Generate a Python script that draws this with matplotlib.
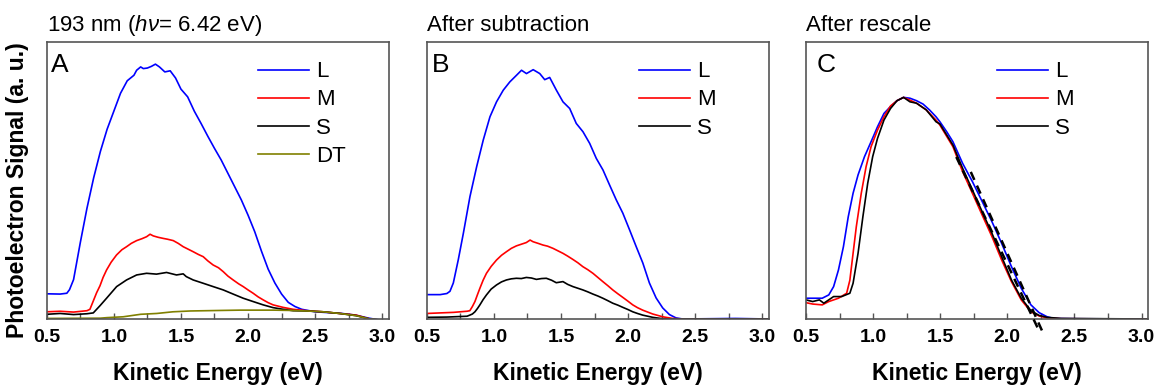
import matplotlib
matplotlib.use("Agg")
import matplotlib.pyplot as plt
from matplotlib.ticker import MultipleLocator

plt.rcParams['font.family'] = ['Liberation Sans', 'DejaVu Sans']
plt.rcParams['mathtext.fontset'] = 'custom'
plt.rcParams['mathtext.rm'] = 'Liberation Sans'
plt.rcParams['mathtext.it'] = 'Liberation Sans:italic'

# ---- data (kinetic energy in eV, signal in arbitrary units) ----
# Panel A: raw spectra
ke_a_L = [0.5, 0.6, 0.65, 0.67, 0.7, 0.72, 0.75, 0.8, 0.85, 0.9, 0.95, 1.0, 1.05, 1.1, 1.15, 1.17,
          1.2, 1.22, 1.25, 1.28, 1.31, 1.34, 1.38, 1.42, 1.46, 1.5, 1.55, 1.6, 1.65, 1.7, 1.75, 1.8,
          1.85, 1.9, 1.95, 2.0, 2.05, 2.1, 2.15, 2.2, 2.25, 2.3, 2.35, 2.4, 2.5, 2.6, 2.7, 2.8, 2.9, 3.0]
sig_a_L = [9.1, 9.0, 9.3, 10.6, 14.2, 19.5, 27.5, 40, 51, 60.5, 68.5, 75, 81.5, 86, 88, 89.8,
           91, 90.4, 90.6, 91.2, 92, 91, 89.2, 89.6, 87, 83, 80.2, 75, 70.6, 66, 61.6, 57.4,
           52.6, 47.8, 43, 37.5, 31.5, 24.5, 18, 13, 9, 6, 4.5, 3.5, 2.6, 2.3, 2.0, 1.4, 0.3, -0.5]

ke_a_M = [0.5, 0.6, 0.7, 0.8, 0.822, 0.847, 0.872, 0.897, 0.92, 0.946, 0.98, 1.02, 1.06, 1.095, 1.13,
          1.17, 1.21, 1.244, 1.27, 1.294, 1.33, 1.368, 1.4, 1.443, 1.48, 1.517, 1.55, 1.591, 1.63,
          1.666, 1.7, 1.74, 1.78, 1.815, 1.85, 1.889, 1.93, 1.964, 2.0, 2.038, 2.075, 2.113, 2.15,
          2.187, 2.261, 2.336, 2.435, 2.559, 2.683, 2.807, 2.906, 3.0]
sig_a_M = [2.6, 2.8, 2.5, 3.0, 3.5, 6.5, 9.5, 12, 15, 17.7, 20.5, 23.1, 25, 26.1, 27.3,
           28.3, 29, 29.7, 30.6, 30, 29.5, 29.1, 28.8, 28.3, 27.3, 26.1, 25.3, 24.3, 23.3,
           22.5, 21, 19.5, 18.5, 17.1, 15.5, 14.1, 12.7, 11.7, 10.5, 9.3, 8.0, 6.9, 5.9,
           5.1, 4.2, 3.5, 3.0, 2.6, 2.0, 1.4, 0, -0.5]

ke_a_S = [0.5, 0.6, 0.7, 0.8, 0.847, 0.872, 0.897, 0.946, 1.021, 1.095, 1.17, 1.244, 1.318, 1.393,
          1.467, 1.517, 1.54, 1.591, 1.666, 1.74, 1.815, 1.889, 1.964, 2.038, 2.113, 2.187, 2.261,
          2.336, 2.435, 2.559, 2.683, 2.807, 2.906, 3.0]
sig_a_S = [1.7, 2.0, 1.6, 1.9, 2.2, 3.5, 4.8, 7.5, 11.7, 14.1, 15.9, 16.5, 16.2, 16.8,
           15.9, 16.3, 15.3, 14.1, 12.9, 11.7, 10.5, 9.0, 7.5, 6.3, 5.1, 4.1, 3.5,
           3.0, 2.9, 2.6, 2.0, 1.2, 0, -0.5]

ke_a_DT = [0.5, 0.9, 0.95, 1.07, 1.2, 1.32, 1.44, 1.57, 1.69, 1.81, 1.94, 2.06, 2.19, 2.31,
           2.435, 2.559, 2.683, 2.807, 2.906, 3.0]
sig_a_DT = [0.2, 0.3, 0.5, 0.8, 1.7, 2.0, 2.6, 2.9, 3.0, 3.1, 3.2, 3.2, 3.2, 3.1,
            2.9, 2.6, 2.0, 1.2, 0, -0.5]

# Panel B: after DT subtraction
ke_b_L = [0.5, 0.6, 0.65, 0.673, 0.698, 0.735, 0.773, 0.822, 0.872, 0.921, 0.971, 1.02, 1.07, 1.119,
          1.169, 1.206, 1.243, 1.293, 1.342, 1.379, 1.416, 1.466, 1.515, 1.565, 1.614, 1.664, 1.714,
          1.763, 1.813, 1.862, 1.912, 1.961, 2.011, 2.06, 2.11, 2.159, 2.209, 2.258, 2.308, 2.357,
          2.407, 2.6, 2.8, 3.05]
sig_b_L = [8.8, 8.8, 9.2, 10, 13, 21.4, 31, 44.2, 55, 64.6, 73, 78.4, 82.6, 85.6,
           88, 89.8, 88.6, 90, 88.6, 86.4, 87.2, 82.6, 78.4, 76, 70.6, 67.6, 63.4,
           58, 53.8, 48.4, 43, 38.2, 32.2, 26.2, 20.2, 13, 7.6, 4, 1.6, 0.4,
           0, 0.1, 0.2, 0]

ke_b_M = [0.5, 0.6, 0.7, 0.8, 0.821, 0.84, 0.859, 0.878, 0.896, 0.92, 0.945, 0.98, 1.02, 1.057,
          1.094, 1.13, 1.168, 1.205, 1.242, 1.27, 1.292, 1.33, 1.366, 1.4, 1.441, 1.478, 1.515,
          1.55, 1.589, 1.626, 1.663, 1.7, 1.738, 1.775, 1.812, 1.85, 1.886, 1.924, 1.961, 2.0,
          2.035, 2.07, 2.109, 2.184, 2.258, 2.332, 2.406, 3.05]
sig_b_M = [2.0, 2.2, 2.4, 2.8, 3.0, 4.5, 6.3, 8.8, 11.1, 14, 16.5, 19, 21.3, 23,
           24.3, 25.5, 26.4, 27, 27.6, 28.5, 27.9, 27.3, 26.7, 26.3, 25.5, 24.6, 23.7,
           22.7, 21.5, 20.3, 18.9, 17.8, 16.5, 15, 13.5, 12, 10.5, 9.1, 7.8, 6.4,
           5.1, 4.1, 3.2, 1.8, 0.8, 0.2, 0, 0]

ke_b_S = [0.5, 0.65, 0.8, 0.821, 0.84, 0.859, 0.878, 0.896, 0.92, 0.945, 0.98, 1.02, 1.057, 1.094,
          1.13, 1.168, 1.205, 1.242, 1.28, 1.317, 1.355, 1.391, 1.43, 1.465, 1.49, 1.515, 1.55,
          1.589, 1.626, 1.663, 1.7, 1.738, 1.775, 1.812, 1.85, 1.886, 1.924, 1.961, 2.0, 2.035,
          2.07, 2.109, 2.184, 2.258, 2.33, 3.05]
sig_b_S = [0.6, 0.7, 1.0, 1.4, 1.8, 2.6, 3.8, 5.1, 7, 8.7, 10.8, 12.3, 13.4, 14.1,
           14.5, 14.7, 14.6, 15, 14.8, 14.3, 14.6, 14.7, 14.0, 13.1, 13.3, 13.5, 12.5,
           11.7, 11.1, 10.5, 9.8, 9.0, 8.3, 7.5, 6.6, 5.7, 5.0, 4.2, 3.4, 2.6,
           2.0, 1.4, 0.6, 0.1, 0, 0]

# Panel C: rescaled to common maximum
ke_c_L = [0.5, 0.621, 0.67, 0.706, 0.742, 0.779, 0.815, 0.851, 0.888, 0.936, 0.985, 1.033, 1.081,
          1.13, 1.178, 1.227, 1.275, 1.324, 1.372, 1.42, 1.469, 1.498, 1.55, 1.595, 1.667, 1.74,
          1.813, 1.886, 1.958, 2.031, 2.104, 2.176, 2.237, 2.297, 2.346, 2.5, 3.05]
sig_c_L = [7.5, 7.5, 8.7, 11.7, 17.7, 26.1, 36.9, 45.4, 52, 58.6, 64, 69.4, 74.2,
           76.7, 78.8, 80, 79.7, 78.8, 77.6, 75.5, 73, 71.2, 67.5, 64, 56.2, 49.6,
           42.4, 35.1, 27.3, 18.9, 11.1, 5.1, 2.3, 0.8, 0.2, 0.1, 0]

ke_c_M = [0.5, 0.55, 0.621, 0.67, 0.742, 0.803, 0.827, 0.851, 0.875, 0.912, 0.948, 0.985, 1.033,
          1.081, 1.13, 1.178, 1.227, 1.275, 1.324, 1.396, 1.469, 1.498, 1.595, 1.667, 1.74, 1.813,
          1.886, 1.958, 2.031, 2.104, 2.176, 2.237, 2.297, 2.4, 3.05]
sig_c_M = [5.9, 5.4, 5.1, 6.3, 7.5, 9.3, 14, 23.7, 33.3, 45.4, 55, 62.2, 68.2,
           73, 76.9, 78.8, 80, 79, 77.9, 75.5, 71.8, 70, 62.2, 53.2, 45.4, 37.5,
           29.7, 21.3, 13.5, 6.9, 2.6, 1.1, 0.4, 0.1, 0]

ke_c_S = [0.5, 0.55, 0.6, 0.633, 0.706, 0.766, 0.827, 0.851, 0.888, 0.924, 0.96, 0.997, 1.033,
          1.081, 1.13, 1.178, 1.227, 1.275, 1.324, 1.396, 1.469, 1.498, 1.595, 1.667, 1.74, 1.813,
          1.886, 1.958, 2.031, 2.104, 2.176, 2.237, 2.297, 2.4, 3.05]
sig_c_S = [6.9, 6.3, 6.9, 5.7, 8.1, 8.1, 9.3, 12.9, 23.7, 36.9, 49, 58.6, 65.2,
           71.8, 76, 78.8, 80, 78.4, 77.9, 75.5, 71.2, 70.4, 62.8, 54.4, 46.6, 38.7,
           30.9, 22.5, 14.1, 7.5, 3.0, 1.3, 0.6, 0.2, 0]

# linear fits of the falling edges (panel C, dashed)
ke_fit1 = [1.62, 2.244]
sig_fit1 = [58.5, -5.0]
ke_fit2 = [1.728, 2.266]
sig_fit2 = [53.1, -5.0]

titles = ['193 nm ($\\mathit{h\\nu}$= 6.42 eV)', 'After subtraction', 'After rescale']
letters = ['A', 'B', 'C']
colors = {'L': '#0000ff', 'M': '#ff0000', 'S': '#000000', 'DT': '#808000'}

fig = plt.figure(figsize=(11.59, 3.87), dpi=100)
lefts = [0.0403, 0.3682, 0.6954]
axes = [fig.add_axes([l, 0.1757, 0.2953, 0.7158]) for l in lefts]

panels = [
    [('L', ke_a_L, sig_a_L), ('M', ke_a_M, sig_a_M), ('S', ke_a_S, sig_a_S), ('DT', ke_a_DT, sig_a_DT)],
    [('L', ke_b_L, sig_b_L), ('M', ke_b_M, sig_b_M), ('S', ke_b_S, sig_b_S)],
    [('L', ke_c_L, sig_c_L), ('M', ke_c_M, sig_c_M), ('S', ke_c_S, sig_c_S)],
]
leg_x = [0.618, 0.621, 0.558]
letter_x = [0.013, 0.015, 0.032]

for i, ax in enumerate(axes):
    for name, ke, sig in panels[i]:
        ax.plot(ke, sig, color=colors[name], lw=1.2, label=name)
    ax.set_xlim(0.5, 3.05)
    ax.set_ylim(0, 100)
    ax.set_yticks([])
    ax.xaxis.set_major_locator(MultipleLocator(0.5))
    ax.xaxis.set_minor_locator(MultipleLocator(0.25))
    ax.tick_params(axis='x', which='both', direction='in', length=4, width=1, color='#555555',
                   pad=7, labelsize=14)
    ax.xaxis.set_major_formatter(plt.FuncFormatter(lambda v, p: '%.1f' % v))
    for lab in ax.get_xticklabels():
        lab.set_fontweight('bold')
    for sp in ax.spines.values():
        sp.set_color('#555555')
        sp.set_linewidth(1.2)
    ax.set_title(titles[i], loc='left', fontsize=16, pad=8)
    ax.text(letter_x[i], 0.96, letters[i], transform=ax.transAxes, fontsize=19,
            va='top', ha='left')
    ax.legend(loc='upper left', bbox_to_anchor=(leg_x[i], 0.93), frameon=False, fontsize=16,
              handlelength=2.3, handletextpad=0.3, labelspacing=0.32, borderpad=0,
              borderaxespad=0)
    ax.set_xlabel('Kinetic Energy (eV)', fontsize=16.5, fontweight='bold', labelpad=12)

for ke, sig in [(ke_fit1, sig_fit1), (ke_fit2, sig_fit2)]:
    axes[2].plot(ke, sig, color='black', lw=1.8, ls=(0, (3.5, 2.5)), clip_on=False, zorder=5)

fig.text(0.0155, 0.51, 'Photoelectron Signal (a. u.)', rotation=90, fontsize=16.5,
         fontweight='bold', ha='center', va='center')

fig.savefig('out.png', dpi=100)
